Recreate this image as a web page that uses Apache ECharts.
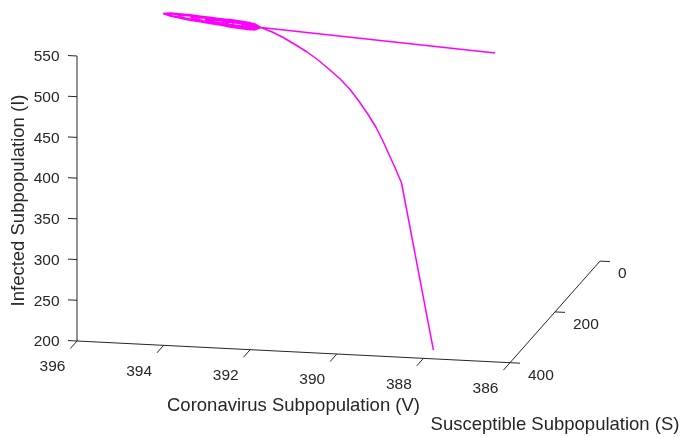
<!DOCTYPE html>
<html><head><meta charset="utf-8">
<script src="https://cdn.jsdelivr.net/npm/echarts@6/dist/echarts.min.js"></script>
<style>html,body{margin:0;padding:0;background:#fff}#c{width:682px;height:437px}</style>
</head><body><div id="c"></div>
<script>
// ---- tick labels / axis ranges ----
const vTicks = [396, 394, 392, 390, 388, 386];
const sTicks = [0, 200, 400];
const iTicks = [200, 250, 300, 350, 400, 450, 500, 550];
const vRange = [386, 396];
const sRange = [0, 400];
const iRange = [200, 550];
const vLabel = 'Coronavirus Subpopulation (V)';
const sLabel = 'Susceptible Subpopulation (S)';
const iLabel = 'Infected Subpopulation (I)';

// ---- trajectory (V, S, I) ----
// first step: initial point -> start of the oscillation
const leadV = [388.32, 393.31];
const leadS = [20, 100];
const leadI = [455.6, 498.6];
// damped oscillation loops around the equilibrium
const blobV = [
  393.56,394.03,394.49,394.95,395.41,395.57,395.41,394.95,394.49,394.03,393.56,393.31,
  393.56,394.03,394.49,394.95,395.36,395.53,395.36,394.95,394.49,394.03,393.56,393.31,
  393.56,394.03,394.49,394.95,395.23,394.95,394.49,394.03,393.56,393.31,
  393.56,394.03,394.49,394.83,394.94,394.83,394.49,394.03,393.56,393.31,
  393.56,394.03,394.49,394.83,394.49,394.03,393.56,393.31,
  393.56,394.03,394.37,394.60,394.37,394.03,393.56,393.31,
  393.56,393.79,394.03,394.26,394.49,394.26,394.03,393.79,393.56,393.31,
  393.56,393.79,393.98,394.14,393.98,393.79,393.56,393.31,
  393.56,393.79,394.03,394.21,394.03,393.79,393.56,393.31,
  393.45,393.68,393.84,393.98,393.84,393.68,393.45,393.31,
  393.45,393.68,393.45,393.31,
  393.45,393.61,393.75,393.61,393.45,393.31,
  393.42,393.56,393.42,393.31];
const blobS = [
  100,100,100,100,100,100,100,100,100,100,100,100,
  100,100,100,100,100,100,100,100,100,100,100,100,
  100,100,100,100,100,100,100,100,100,100,
  100,100,100,100,100,100,100,100,100,100,
  100,100,100,100,100,100,100,100,
  100,100,100,100,100,100,100,100,
  100,100,100,100,100,100,100,100,100,100,
  100,100,100,100,100,100,100,100,
  100,100,100,100,100,100,100,100,
  100,100,100,100,100,100,100,100,
  100,100,100,100,
  100,100,100,100,100,100,
  100,100,100,100];
const blobI = [
  501.93,505.30,507.86,509.79,510.85,509.76,507.07,503.23,500.50,498.40,497.11,498.6,
  500.81,503.70,506.14,508.23,509.72,509.53,507.68,504.79,502.22,500.00,498.23,498.6,
  502.27,505.67,508.00,509.26,507.98,503.76,500.36,498.03,496.77,498.6,
  501.30,504.27,506.48,507.62,507.16,504.32,501.88,499.43,497.74,498.6,
  502.82,506.15,507.76,505.97,500.60,497.55,496.22,498.6,
  500.72,503.31,504.72,504.79,502.48,500.39,498.32,498.6,
  503.45,505.24,506.39,506.63,504.18,499.27,497.31,496.02,495.59,498.6,
  502.05,503.28,503.72,502.42,499.48,497.98,496.99,498.6,
  503.80,505.27,505.58,502.78,498.12,495.99,495.24,498.6,
  502.51,504.32,504.32,501.60,497.44,495.80,495.23,498.6,
  500.32,500.06,497.42,498.6,
  502.38,503.09,500.42,496.33,495.36,498.6,
  501.46,499.52,496.06,498.6];
// descending branch
const tailV = [393.03,392.75,392.44,392.12,391.82,391.52,391.20,390.91,390.64,390.36,390.09,389.85,389.63,389.40,389.17,387.94];
const tailS = [104,109,116,124,133,143,154,166,179,193,208,224,240,256,272,367];
const tailI = [495.04,490.59,485.01,479.15,472.93,465.82,457.79,449.43,440.09,429.24,418.04,407.11,396.72,385.11,372.32,200.1];

const V = leadV.concat(blobV, tailV);
const S = leadS.concat(blobS, tailS);
const I = leadI.concat(blobI, tailI);

// ---- 3D view (layout): oblique projection of the box onto a 2D plane ----
const ORIGIN = [77, 341];          // (V=396, S=400, I=200)
const DV = [-43.3, -2.17];          // per +1 V
const DS = [-0.225, 0.254];         // per +1 S
const DI = [0, -0.8143];            // per +1 I
function proj(v, s, i) {
  const a = v - vRange[1], b = s - sRange[1], c = i - iRange[0];
  return [ORIGIN[0] + a * DV[0] + b * DS[0] + c * DI[0],
          ORIGIN[1] + a * DV[1] + b * DS[1] + c * DI[1]];
}
function unit(d) { const n = Math.hypot(d[0], d[1]); return [d[0] / n, d[1] / n]; }

const traj = V.map((v, k) => proj(v, S[k], I[k]));

const AX = '#262626';
const FONT = '"Liberation Sans", Arial, Helvetica, sans-serif';
const TICK_FONT = 'normal 15.5px ' + FONT;
const LAB_FONT = 'normal 18.5px ' + FONT;

function renderAxes(params, api) {
  const ch = [];
  const P = (v, s, i) => api.coord(proj(v, s, i));
  const seg = (p, q) => ({ type: 'line', shape: { x1: p[0], y1: p[1], x2: q[0], y2: q[1] },
    style: { stroke: AX, lineWidth: 1 } });
  const txt = (x, y, t, align, va, font, rot) => ({ type: 'text', x: x, y: y, rotation: rot || 0,
    style: { text: t, x: 0, y: 0, align: align, verticalAlign: va, font: font, fill: AX } });
  ch.push(seg(P(vRange[1], sRange[1], iRange[0]), P(vRange[1], sRange[1], iRange[1])));
  ch.push(seg(P(vRange[1], sRange[1], iRange[0]), P(vRange[0], sRange[1], iRange[0])));
  ch.push(seg(P(vRange[0], sRange[1], iRange[0]), P(vRange[0], sRange[0], iRange[0])));
  const uV = unit(DV), uS = unit(DS);
  iTicks.forEach(t => {
    const p = P(vRange[1], sRange[1], t);
    ch.push(seg(p, [p[0] + uV[0] * 9, p[1] + uV[1] * 9]));
    ch.push(txt(p[0] - 17.5, p[1] + 1, String(t), 'right', 'middle', TICK_FONT));
  });
  vTicks.forEach(t => {
    const p = P(t, sRange[1], iRange[0]);
    ch.push(seg(p, [p[0] + uS[0] * 10, p[1] + uS[1] * 10]));
    ch.push(txt(p[0] - 24.5, p[1] + 26, String(t), 'center', 'middle', TICK_FONT));
  });
  sTicks.forEach(t => {
    const p = P(vRange[0], t, iRange[0]);
    ch.push(seg(p, [p[0] - uV[0] * 10, p[1] - uV[1] * 10]));
    ch.push(txt(p[0] + 18, p[1] + 13, String(t), 'left', 'middle', TICK_FONT));
  });
  const vm = P((vRange[0] + vRange[1]) / 2, sRange[1], iRange[0]);
  ch.push(txt(vm[0], vm[1] + 54, vLabel, 'center', 'middle', LAB_FONT));
  const sm = P(vRange[0], (sRange[0] + sRange[1]) / 2, iRange[0]);
  ch.push(txt(sm[0], sm[1] + 113, sLabel, 'center', 'middle', LAB_FONT));
  const im = P(vRange[1], sRange[1], (iRange[0] + iRange[1]) / 2);
  ch.push(txt(im[0] - 58, im[1] + 2, iLabel, 'center', 'middle', LAB_FONT, Math.PI / 2));
  return { type: 'group', children: ch };
}

const chart = echarts.init(document.getElementById('c'), null, { renderer: 'canvas' });
chart.setOption({
  animation: false,
  backgroundColor: '#ffffff',
  grid: { left: 0, right: 0, top: 0, bottom: 0 },
  xAxis: { type: 'value', min: 0, max: 682, show: false },
  yAxis: { type: 'value', min: 0, max: 437, inverse: true, show: false },
  series: [
    { type: 'custom', renderItem: renderAxes, data: [0], silent: true, z: 1 },
    { type: 'line', data: traj, showSymbol: false, smooth: false,
      lineStyle: { color: '#ff00ff', width: 1.5 }, z: 3, silent: true }
  ]
});
</script>
</body></html>
